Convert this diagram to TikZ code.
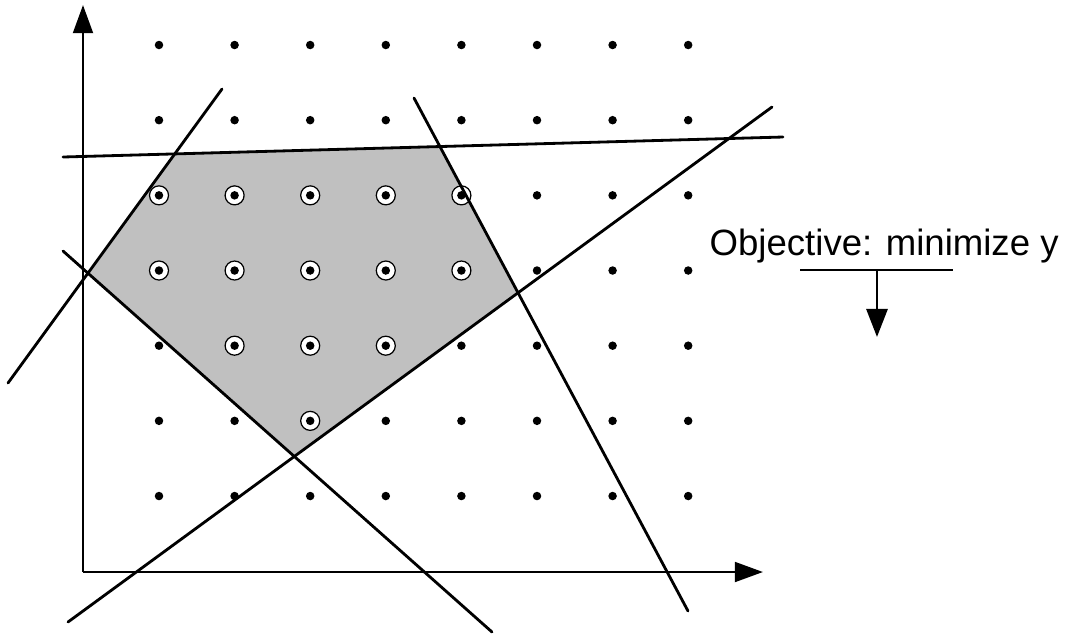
\documentclass[tikz,border=0pt]{standalone}
\usepackage{fontspec}
\setmainfont{Liberation Sans}
\usetikzlibrary{arrows.meta}
\definecolor{feas}{RGB}{192,192,192}
\begin{document}
\begin{tikzpicture}[x=0.01cm,y=-0.01cm,
  constraint/.style={line width=0.8pt, line cap=round},
  axis/.style={line width=0.82pt, -{Triangle[length=8pt,width=5.6pt]}},
  objarrow/.style={line width=0.8pt, -{Triangle[length=8pt,width=6pt]}},
  latt/.style={circle, fill=black, inner sep=0pt, minimum size=0.085cm},
  ring/.style={circle, draw=black, fill=white, line width=0.35pt, inner sep=0pt, minimum size=0.19cm},
  objtext/.style={anchor=base west, inner sep=0pt, font=\fontsize{10.4}{12}\selectfont}]
\useasboundingbox (0,0) rectangle (1072,635);

% constraint line end points
\coordinate (l1a) at (63,157);  \coordinate (l1b) at (783,137);
\coordinate (l2a) at (8,383);   \coordinate (l2b) at (222,89);
\coordinate (l3a) at (63,251);  \coordinate (l3b) at (492,632);
\coordinate (l4a) at (414,98);  \coordinate (l4b) at (688,611);
\coordinate (l5a) at (68,622);  \coordinate (l5b) at (772,107);

% vertices of the feasible region
\coordinate (A) at (intersection of l2a--l2b and l3a--l3b);
\coordinate (B) at (intersection of l2a--l2b and l1a--l1b);
\coordinate (C) at (intersection of l1a--l1b and l4a--l4b);
\coordinate (D) at (intersection of l4a--l4b and l5a--l5b);
\coordinate (E) at (intersection of l5a--l5b and l3a--l3b);
\fill[feas] (A) -- (B) -- (C) -- (D) -- (E) -- cycle;

% lattice coordinates
\foreach \i in {1,...,8}
  \foreach \j in {1,...,7}
    \coordinate (p-\i-\j) at ({159+75.6*(\i-1)},{45+75.17*(\j-1)});

% feasible integer points
\foreach \i/\j in {1/3,2/3,3/3,4/3,5/3,1/4,2/4,3/4,4/4,5/4,2/5,3/5,4/5,3/6}
  \node[ring] (r-\i-\j) at (p-\i-\j) {};

% lattice dots
\foreach \i in {1,...,8}
  \foreach \j in {1,...,7}
    \node[latt] (d-\i-\j) at (p-\i-\j) {};

% axes
\coordinate (O) at (83,572);
\coordinate (ytip) at (83,5);
\coordinate (xtip) at (763,572);
\draw[axis] (O) -- (ytip);
\draw[axis] (O) -- (xtip);

% constraint lines
\draw[constraint] (l1a) -- (l1b);
\draw[constraint] (l2a) -- (l2b);
\draw[constraint] (l3a) -- (l3b);
\draw[constraint] (l4a) -- (l4b);
\draw[constraint] (l5a) -- (l5b);

% objective
\node[objtext] (obj) at (709,255) {Objective: minimize y};
\coordinate (ul) at (800,270);
\coordinate (ur) at (953,270);
\coordinate (am) at (877,270);
\coordinate (at) at (877,337);
\draw[constraint, line cap=butt] (ul) -- (ur);
\draw[objarrow] (am) -- (at);
\end{tikzpicture}
\end{document}
